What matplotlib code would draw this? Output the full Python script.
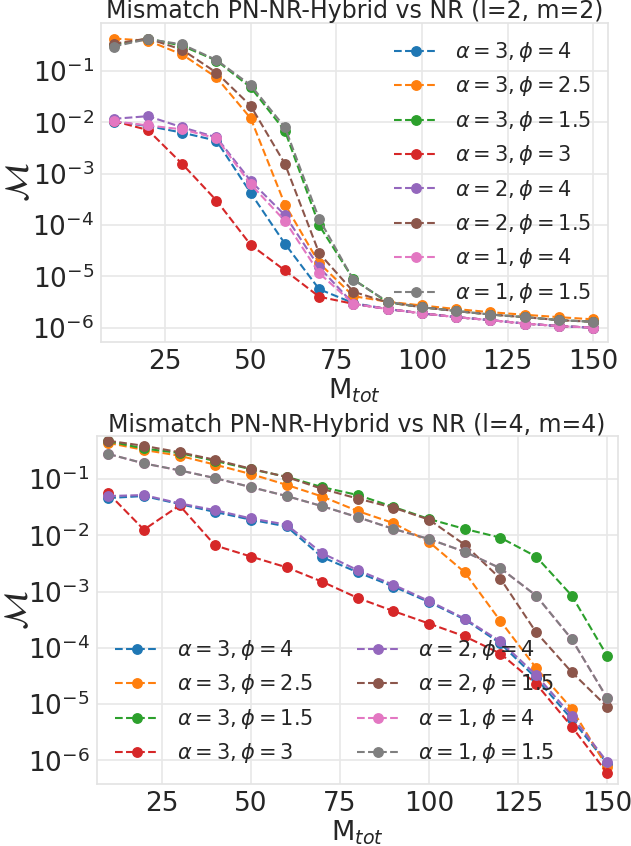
import numpy as np
import matplotlib
matplotlib.use("Agg")
import matplotlib.pyplot as plt

M_tot = [10, 20, 30, 40, 50, 60, 70, 80, 90, 100, 110, 120, 130, 140, 150]

labels = [r"$\alpha=3, \phi=4$", r"$\alpha=3, \phi=2.5$", r"$\alpha=3, \phi=1.5$",
          r"$\alpha=3, \phi=3$", r"$\alpha=2, \phi=4$", r"$\alpha=2, \phi=1.5$",
          r"$\alpha=1, \phi=4$", r"$\alpha=1, \phi=1.5$"]

# (l=2, m=2)
mm22_a3_p4 = [0.0103, 0.0085, 0.0063, 0.0044, 4.2e-4, 4.3e-5, 5.6e-6, 3.0e-6, 2.3e-6, 1.9e-6, 1.6e-6, 1.4e-6, 1.2e-6, 1.07e-6, 1.0e-6]
mm22_a3_p25 = [0.43, 0.39, 0.21, 0.075, 0.012, 2.5e-4, 1.8e-5, 4.1e-6, 3.2e-6, 2.7e-6, 2.3e-6, 2.0e-6, 1.78e-6, 1.6e-6, 1.45e-6]
mm22_a3_p15 = [0.32, 0.43, 0.31, 0.16, 0.048, 0.0068, 9.8e-5, 8.7e-6, 3.1e-6, 2.5e-6, 2.1e-6, 1.8e-6, 1.6e-6, 1.4e-6, 1.3e-6]
mm22_a3_p3 = [0.0106, 0.0071, 1.55e-3, 3.0e-4, 4.1e-5, 1.3e-5, 4.0e-6, 2.9e-6, 2.3e-6, 1.9e-6, 1.6e-6, 1.4e-6, 1.2e-6, 1.07e-6, 1.0e-6]
mm22_a2_p4 = [0.0117, 0.0132, 0.0080, 0.0051, 7.2e-4, 1.55e-4, 1.5e-5, 2.9e-6, 2.3e-6, 1.9e-6, 1.6e-6, 1.4e-6, 1.2e-6, 1.07e-6, 1.0e-6]
mm22_a2_p15 = [0.34, 0.43, 0.26, 0.093, 0.021, 1.55e-3, 2.8e-5, 5.0e-6, 3.1e-6, 2.5e-6, 2.1e-6, 1.8e-6, 1.6e-6, 1.4e-6, 1.3e-6]
mm22_a1_p4 = [0.0105, 0.0087, 0.0073, 0.0049, 6.2e-4, 1.2e-4, 1.15e-5, 2.9e-6, 2.3e-6, 1.9e-6, 1.6e-6, 1.4e-6, 1.2e-6, 1.07e-6, 1.0e-6]
mm22_a1_p15 = [0.30, 0.42, 0.33, 0.164, 0.053, 0.0080, 1.3e-4, 8.5e-6, 3.2e-6, 2.5e-6, 2.1e-6, 1.8e-6, 1.6e-6, 1.4e-6, 1.3e-6]

# (l=4, m=4)
mm44_a3_p4 = [0.046, 0.050, 0.036, 0.026, 0.019, 0.0144, 0.0041, 0.0022, 1.23e-3, 6.5e-4, 3.2e-4, 1.2e-4, 2.9e-5, 5.4e-6, 8.7e-7]
mm44_a3_p25 = [0.44, 0.33, 0.26, 0.18, 0.123, 0.079, 0.049, 0.027, 0.0165, 0.0076, 0.0022, 3.0e-4, 4.4e-5, 8.3e-6, 7.5e-7]
mm44_a3_p15 = [0.47, 0.35, 0.29, 0.21, 0.15, 0.11, 0.072, 0.052, 0.032, 0.0195, 0.013, 0.0091, 0.0042, 8.5e-4, 7.1e-5]
mm44_a3_p3 = [0.056, 0.0126, 0.034, 0.0066, 0.0042, 0.0027, 0.0015, 7.7e-4, 4.5e-4, 2.7e-4, 1.6e-4, 7.9e-5, 2.3e-5, 4.0e-6, 5.9e-7]
mm44_a2_p4 = [0.050, 0.052, 0.037, 0.028, 0.020, 0.0155, 0.0048, 0.0024, 1.32e-3, 6.8e-4, 3.3e-4, 1.3e-4, 3.3e-5, 6.2e-6, 9.3e-7]
mm44_a2_p15 = [0.48, 0.39, 0.30, 0.22, 0.153, 0.109, 0.067, 0.045, 0.031, 0.019, 0.0068, 0.0017, 1.9e-4, 3.7e-5, 8.9e-6]
mm44_a1_p4 = [0.28, 0.19, 0.143, 0.104, 0.072, 0.050, 0.033, 0.021, 0.013, 0.0086, 0.0051, 0.0026, 8.5e-4, 1.43e-4, 1.26e-5]
mm44_a1_p15 = [0.28, 0.19, 0.143, 0.104, 0.072, 0.050, 0.033, 0.021, 0.013, 0.0086, 0.0051, 0.0026, 8.5e-4, 1.43e-4, 1.26e-5]

series22 = [mm22_a3_p4, mm22_a3_p25, mm22_a3_p15, mm22_a3_p3, mm22_a2_p4, mm22_a2_p15, mm22_a1_p4, mm22_a1_p15]
series44 = [mm44_a3_p4, mm44_a3_p25, mm44_a3_p15, mm44_a3_p3, mm44_a2_p4, mm44_a2_p15, mm44_a1_p4, mm44_a1_p15]

colors = ["#1f77b4", "#ff7f0e", "#2ca02c", "#d62728", "#9467bd", "#8c564b", "#e377c2", "#7f7f7f"]
TXT = "#262626"

plt.rcParams.update({
    "font.family": "DejaVu Sans",
    "text.color": TXT,
    "axes.labelcolor": TXT,
    "xtick.color": TXT,
    "ytick.color": TXT,
})

fig = plt.figure(figsize=(6.31, 8.46), dpi=100)
W, H = 631.0, 846.0

def make_ax(l, r, t, b):
    return fig.add_axes([l / W, (H - b) / H, (r - l) / W, (b - t) / H])

ax1 = make_ax(101, 608, 23.3, 342)
ax2 = make_ax(96.5, 617.7, 436.5, 784)

def style(ax, title, xlim, ylim, ylpad):
    ax.set_facecolor("white")
    ax.set_yscale("log")
    ax.set_xlim(*xlim)
    ax.set_ylim(*ylim)
    ax.set_xticks([25, 50, 75, 100, 125, 150])
    ax.set_yticks([1e-6, 1e-5, 1e-4, 1e-3, 1e-2, 1e-1])
    ax.yaxis.set_minor_locator(matplotlib.ticker.NullLocator())
    ax.grid(True, color="#e8e8e8", linewidth=1.2)
    ax.set_axisbelow(True)
    for s in ax.spines.values():
        s.set_color("#e3e3e3")
        s.set_linewidth(1.2)
    ax.tick_params(axis="both", length=0, labelsize=19, pad=5)
    ax.set_title(title, fontsize=17, pad=3)
    ax.set_xlabel(r"M$_{tot}$", fontsize=19.5, labelpad=1)
    ax.set_ylabel(r"$\mathcal{M}$", fontsize=24, labelpad=ylpad)

for ax, series in ((ax1, series22), (ax2, series44)):
    for vals, c, lab in zip(series, colors, labels):
        ax.plot(M_tot, vals, "--o", color=c, label=lab, markersize=6.8, linewidth=1.5)

style(ax1, "Mismatch PN-NR-Hybrid vs NR (l=2, m=2)", (6.3, 154.3), (10 ** -6.28, 10 ** -0.07), -2)
style(ax2, "Mismatch PN-NR-Hybrid vs NR (l=4, m=4)", (6.7, 152.9), (10 ** -6.42, 10 ** -0.243), -5)

ax1.legend(loc="upper right", frameon=False, fontsize=15, handlelength=2.1,
           handletextpad=0.85, labelspacing=0.5, borderaxespad=0.4)
ax2.legend(loc="lower left", ncol=2, frameon=False, fontsize=15, handlelength=2.1,
           handletextpad=0.85, labelspacing=0.5, columnspacing=2.1, borderaxespad=0.5)

fig.savefig("out.png", dpi=100, facecolor="white")
